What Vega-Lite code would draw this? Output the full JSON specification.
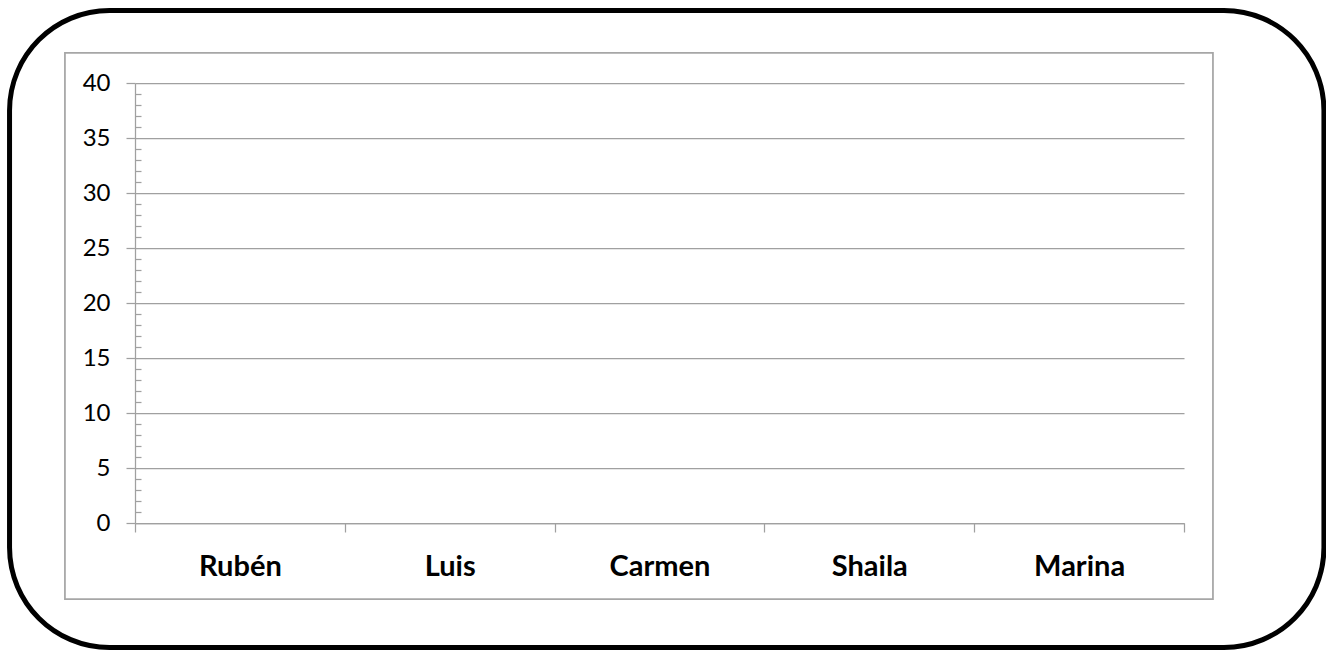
{
  "$schema": "https://vega.github.io/schema/vega-lite/v6.json",
  "width": 1049,
  "height": 440,
  "autosize": {"type": "none"},
  "padding": {"left": 135, "top": 83, "right": 142, "bottom": 128},
  "background": "white",
  "config": {"view": {"stroke": null}, "font": "Lato"},
  "layer": [
    {
      "data": {"values": [{"frame": "outer"}]},
      "mark": {"type": "rect", "fill": null, "stroke": "black", "strokeWidth": 5, "cornerRadius": 100},
      "encoding": {
        "x": {"datum": -0.598, "type": "quantitative", "scale": {"domain": [0, 5], "nice": false, "zero": false}, "axis": null},
        "x2": {"datum": 5.667},
        "y": {"datum": 46.59, "type": "quantitative", "scale": {"domain": [0, 40], "nice": false, "zero": false}, "axis": null},
        "y2": {"datum": -11.32}
      }
    },
    {
      "data": {"values": [{"frame": "inner"}]},
      "mark": {"type": "rect", "fill": null, "stroke": "#a6a6a6", "strokeWidth": 1.75},
      "encoding": {
        "x": {"datum": -0.334, "type": "quantitative", "scale": {"domain": [0, 5], "nice": false, "zero": false}, "axis": null},
        "x2": {"datum": 5.138},
        "y": {"datum": 42.73, "type": "quantitative", "scale": {"domain": [0, 40], "nice": false, "zero": false}, "axis": null},
        "y2": {"datum": -6.91}
      }
    },
    {
      "data": {"values": [
        {"nombre": "Rubén", "valor": null},
        {"nombre": "Luis", "valor": null},
        {"nombre": "Carmen", "valor": null},
        {"nombre": "Shaila", "valor": null},
        {"nombre": "Marina", "valor": null}
      ]},
      "mark": {"type": "bar", "color": "#4f81bd"},
      "encoding": {
        "x": {
          "field": "nombre", "type": "nominal", "sort": null,
          "scale": {"domain": ["Rubén", "Luis", "Carmen", "Shaila", "Marina"], "paddingInner": 0, "paddingOuter": 0},
          "axis": {
            "title": null, "tickBand": "extent", "labelAngle": 0,
            "domainColor": "#a0a0a0", "domainWidth": 1.25,
            "tickColor": "#a0a0a0", "tickWidth": 1.25, "tickSize": 9,
            "labelFont": "Lato", "labelFontWeight": "bold", "labelFontSize": 29, "labelColor": "black",
            "labelBaseline": "alphabetic", "labelPadding": 43, "grid": false
          }
        },
        "y": {
          "field": "valor", "type": "quantitative",
          "scale": {"domain": [0, 40], "nice": false, "zero": true},
          "axis": {
            "title": null,
            "values": [0,1,2,3,4,5,6,7,8,9,10,11,12,13,14,15,16,17,18,19,20,21,22,23,24,25,26,27,28,29,30,31,32,33,34,35,36,37,38,39,40],
            "labelExpr": "datum.value % 5 === 0 ? datum.label : ''",
            "labelFont": "Lato", "labelFontSize": 24, "labelColor": "black", "labelPadding": 16,
            "domainColor": "#a0a0a0", "domainWidth": 1.25,
            "tickColor": "#a0a0a0", "tickWidth": 1.25,
            "tickSize": {"condition": {"test": "datum.value % 5 === 0", "value": 9}, "value": -6},
            "grid": true, "gridColor": "#a0a0a0", "gridWidth": 1.25,
            "gridOpacity": {"condition": {"test": "datum.value % 5 === 0", "value": 1}, "value": 0},
            "labelOverlap": false
          }
        }
      }
    }
  ],
  "resolve": {"scale": {"x": "independent", "y": "independent"}}
}
